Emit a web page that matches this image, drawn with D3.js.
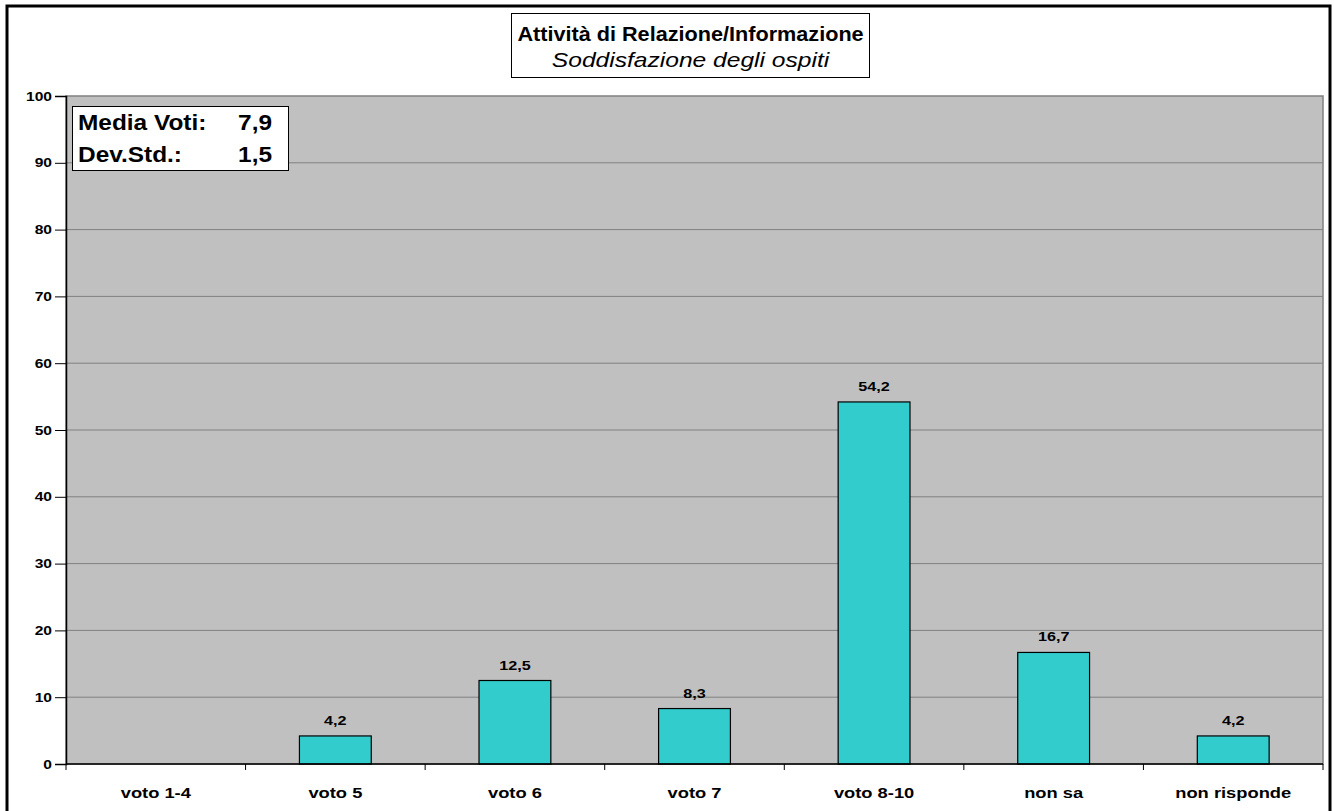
<!DOCTYPE html>
<html><head><meta charset="utf-8">
<script src="https://cdn.jsdelivr.net/npm/d3@7"></script>
<style>body{margin:0;background:#fff}svg{display:block}text{font-family:Arial,"Liberation Sans",sans-serif}</style>
</head><body>
<svg id="c" width="1334" height="811"></svg>
<script>
const categories = ["voto 1-4","voto 5","voto 6","voto 7","voto 8-10","non sa","non risponde"];
const values = [0, 4.2, 12.5, 8.3, 54.2, 16.7, 4.2];
const yTicks = [0,10,20,30,40,50,60,70,80,90,100];
const title = "Attività di Relazione/Informazione";
const subtitle = "Soddisfazione degli ospiti";
const stats = [["Media Voti:", "7,9"], ["Dev.Std.:", "1,5"]];

const svg = d3.select("#c");
const L = 66, R = 1323, T = 96, B = 764;
const fmt = v => d3.format(".1f")(v).replace(".", ",");
const data = values.map((v,i)=>({cat:categories[i], v}));

function txt(g, x, y, s, size, sx, anchor, opts={}) {
  const t = g.append("text").attr("transform",`translate(${x},${y}) scale(${sx},1)`)
    .attr("text-anchor",anchor).attr("font-size",size+"px")
    .attr("font-weight",opts.weight||"bold").attr("fill","#000").text(s);
  if (opts.italic) t.attr("font-style","italic");
  if (opts.dy) t.attr("dy",opts.dy);
  return t;
}

svg.append("rect").attr("x",7).attr("y",6).attr("width",1323).attr("height",812)
  .attr("fill","#fff").attr("stroke","#000").attr("stroke-width",3);

const x = d3.scaleBand().domain(categories).range([L,R]).paddingInner(0.6).paddingOuter(0.3);
const xb = d3.scaleBand().domain(categories).range([L,R]);
const y = d3.scaleLinear().domain([0,100]).range([B,T]);

svg.append("rect").attr("x",L).attr("y",T).attr("width",R-L).attr("height",B-T)
  .attr("fill","#c0c0c0").attr("stroke","#808080").attr("stroke-width",1.5);

svg.append("g").selectAll("line").data(yTicks.filter(d=>d>0&&d<100)).join("line")
  .attr("x1",L).attr("x2",R).attr("y1",d=>y(d)).attr("y2",d=>y(d))
  .attr("stroke","#808080").attr("stroke-width",1);

const shown = data.filter(d=>d.v>0);
svg.append("g").selectAll("rect").data(shown).join("rect")
  .attr("x",d=>x(d.cat)).attr("width",x.bandwidth())
  .attr("y",d=>y(d.v)).attr("height",d=>B-y(d.v))
  .attr("fill","#33cccc").attr("stroke","#000").attr("stroke-width",1.2);

const lg = svg.append("g");
shown.forEach(d=>txt(lg, x(d.cat)+x.bandwidth()/2, y(d.v)-11, fmt(d.v), 13.5, 1.2, "middle"));

// y axis
const ya = svg.append("g").attr("transform",`translate(${L},0)`)
  .call(d3.axisLeft(y).tickValues(yTicks).tickSize(11).tickFormat(""));
ya.select(".domain").attr("stroke","#000").attr("stroke-width",1.5);
ya.selectAll(".tick line").attr("stroke","#000");
const yl = svg.append("g");
yTicks.forEach(t=>txt(yl, 52, y(t), d3.format("d")(t), 13, 1.2, "end", {dy:"0.35em"}));

// x axis
svg.append("line").attr("x1",L).attr("x2",R).attr("y1",B).attr("y2",B).attr("stroke","#000").attr("stroke-width",1.5);
svg.append("g").selectAll("line").data(d3.range(categories.length+1)).join("line")
  .attr("x1",i=>L+i*xb.bandwidth()).attr("x2",i=>L+i*xb.bandwidth())
  .attr("y1",B).attr("y2",B+6).attr("stroke","#000").attr("stroke-width",1);
const xl = svg.append("g");
categories.forEach(c=>txt(xl, xb(c)+xb.bandwidth()/2, 798, c, 15.4, 1.19, "middle"));

// title box
svg.append("rect").attr("x",511.5).attr("y",13.5).attr("width",358).attr("height",64)
  .attr("fill","#fff").attr("stroke","#000").attr("stroke-width",1);
txt(svg, 690.5, 40.5, title, 19.5, 1.11, "middle");
txt(svg, 690.5, 67, subtitle, 20.5, 1.2, "middle", {weight:"normal", italic:true});

// stats box
svg.append("rect").attr("x",72.5).attr("y",106.5).attr("width",216).attr("height",64)
  .attr("fill","#fff").attr("stroke","#000").attr("stroke-width",1);
stats.forEach((s,i)=>{
  txt(svg, 78, 129.5+i*32, s[0], 22, 1.11, "start");
  txt(svg, 272, 129.5+i*32, s[1], 22, 1.11, "end");
});
</script>
</body></html>
